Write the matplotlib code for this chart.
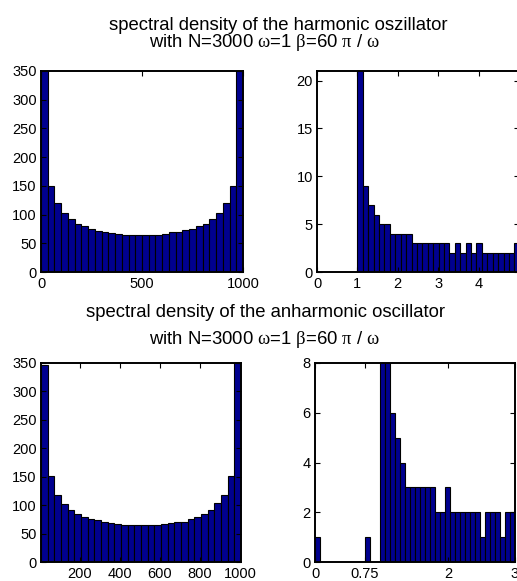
import matplotlib
matplotlib.use("Agg")
import matplotlib.pyplot as plt
import numpy as np

plt.rcParams['font.family'] = ['Liberation Sans', 'DejaVu Sans']
plt.rcParams['mathtext.fontset'] = 'custom'
plt.rcParams['mathtext.rm'] = 'Liberation Serif'

# ---- data ----
# top-left: harmonic oscillator, 30 bins over [0, 1000]
h_full_counts = [351, 150, 120, 103, 92, 84, 80, 75, 72, 70, 68, 67, 65, 65, 65,
                 65, 65, 65, 67, 69, 70, 73, 75, 80, 84, 92, 103, 120, 150, 351]
h_full_range = (0, 1000)
h_full_xticks = [0, 500, 1000]
h_full_yticks = [0, 50, 100, 150, 200, 250, 300, 350]

# top-right: harmonic oscillator, low part (bins start at 1)
h_low_start = 1.0
h_low_width = 0.134
h_low_counts = [25, 9, 7, 6, 5, 5, 4, 4, 4, 4, 3, 3, 3, 3, 3, 3, 3, 2, 3, 2,
                3, 2, 3, 2, 2, 2, 2, 2, 2, 3]
h_low_xticks = [0, 1, 2, 3, 4]
h_low_yticks = [0, 5, 10, 15, 20]

# bottom-left: anharmonic oscillator, 30 bins
a_full_counts = [346, 151, 118, 102, 91, 84, 80, 76, 73, 70, 69, 67, 65, 65, 65,
                 65, 65, 65, 66, 68, 70, 71, 76, 79, 85, 91, 103, 118, 151, 355]
a_full_range = (5, 1005)
a_full_xticks = [200, 400, 600, 800, 1000]
a_full_yticks = [0, 50, 100, 150, 200, 250, 300, 350]

# bottom-right: anharmonic oscillator, low part, 40 bins over [0, 3]
a_low_range = (0, 3)
a_low_counts = [1, 0, 0, 0, 0, 0, 0, 0, 0, 0, 1, 0, 0, 9, 9, 6, 5, 4, 3, 3,
                3, 3, 3, 3, 2, 2, 3, 2, 2, 2, 2, 2, 2, 1, 2, 2, 2, 1, 2, 2]
a_low_xticks = [0, 0.75, 2, 3]
a_low_xticklabels = ['0', '0.75', '2', '3']
a_low_yticks = [0, 2, 4, 6, 8]

title1 = "spectral density of the harmonic oszillator"
title2 = "spectral density of the anharmonic oscillator"
subtitle = r"with N=3000 $\mathrm{ω}$=1 $\mathrm{β}$=60 $\mathrm{π}$ / $\mathrm{ω}$"

BAR = '#00008F'
W, H = 517, 581
fig = plt.figure(figsize=(W / 100, H / 100), dpi=100)


def ax_at(l, r, t, b):
    return fig.add_axes([l / W, (H - b) / H, (r - l) / W, (b - t) / H])


def style(ax):
    for s in ax.spines.values():
        s.set_linewidth(1.4)
    ax.tick_params(direction='in', top=True, right=True, length=3.5, width=0.8,
                   labelsize=10.5, pad=3)
    ax.tick_params(axis='x', pad=3.5)


def draw_bins(ax, lefts, width, counts):
    ax.bar(lefts, counts, width=width, align='edge', color=BAR,
           edgecolor='black', linewidth=0.8)


# top-left
ax1 = ax_at(41, 243, 71, 272)
n = len(h_full_counts)
w = (h_full_range[1] - h_full_range[0]) / n
draw_bins(ax1, h_full_range[0] + w * np.arange(n), w, h_full_counts)
ax1.set_xlim(*h_full_range)
ax1.set_ylim(0, 350)
ax1.set_xticks(h_full_xticks)
ax1.set_yticks(h_full_yticks)
style(ax1)

# top-right
ax2 = ax_at(317, 519, 71, 272)
n = len(h_low_counts)
draw_bins(ax2, h_low_start + h_low_width * np.arange(n), h_low_width, h_low_counts)
ax2.set_xlim(0, 5)
ax2.set_ylim(0, 21)
ax2.set_xticks(h_low_xticks)
ax2.set_yticks(h_low_yticks)
style(ax2)

# bottom-left
ax3 = ax_at(41, 241, 363, 562)
n = len(a_full_counts)
w = (a_full_range[1] - a_full_range[0]) / n
draw_bins(ax3, a_full_range[0] + w * np.arange(n), w, a_full_counts)
ax3.set_xlim(*a_full_range)
ax3.set_ylim(0, 350)
ax3.set_xticks(a_full_xticks)
ax3.set_yticks(a_full_yticks)
style(ax3)

# bottom-right
ax4 = ax_at(315, 515, 363, 562)
n = len(a_low_counts)
w = (a_low_range[1] - a_low_range[0]) / n
draw_bins(ax4, a_low_range[0] + w * np.arange(n), w, a_low_counts)
ax4.set_xlim(*a_low_range)
ax4.set_ylim(0, 8)
ax4.set_xticks(a_low_xticks)
ax4.set_xticklabels(a_low_xticklabels)
ax4.set_yticks(a_low_yticks)
style(ax4)

# titles (baseline positions)
fs = 13.3
fig.text(278.5 / W, 1 - 30 / H, title1, ha='center', va='baseline', fontsize=fs)
fig.text(265 / W, 1 - 47 / H, subtitle, ha='center', va='baseline', fontsize=fs)
fig.text(266 / W, 1 - 317 / H, title2, ha='center', va='baseline', fontsize=fs)
fig.text(265 / W, 1 - 344 / H, subtitle, ha='center', va='baseline', fontsize=fs)

fig.savefig("out.png", dpi=100)
